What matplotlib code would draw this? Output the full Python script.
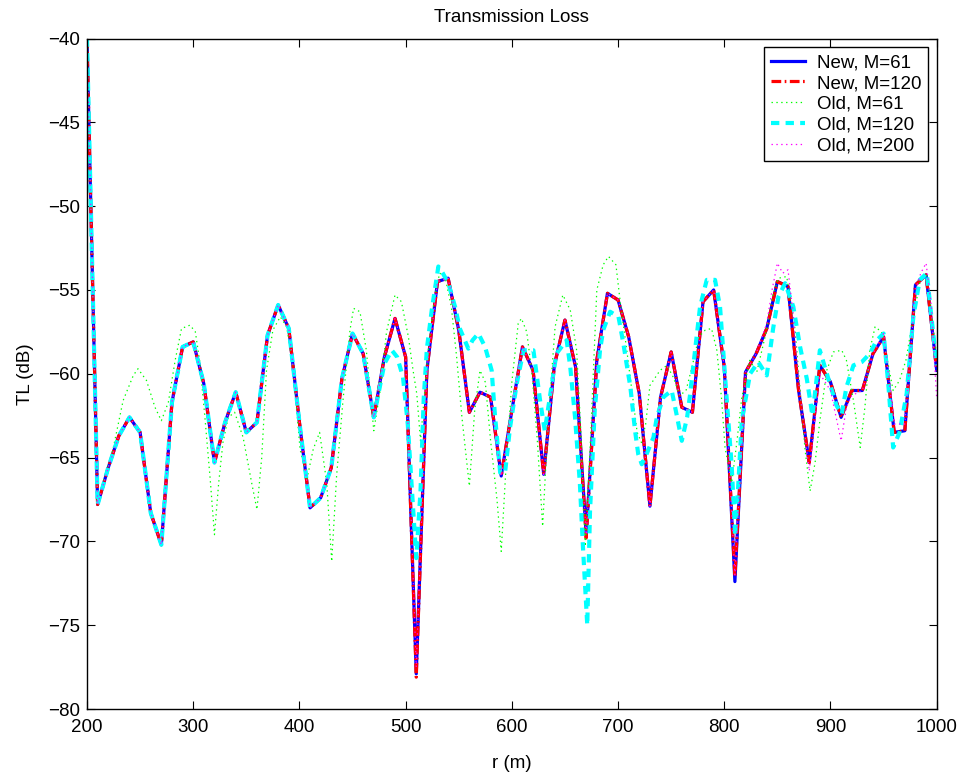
import matplotlib
matplotlib.use("Agg")
import matplotlib.pyplot as plt

plt.rcParams['font.family'] = ['Liberation Sans', 'DejaVu Sans']
plt.rcParams['lines.scale_dashes'] = False

# ---- data ----
r_new = list(range(200, 1001, 10))
tl_new61 = [-40.0, -67.8, -65.6, -63.7, -62.6, -63.5, -68.3, -70.2, -61.7, -58.4,
            -58.1, -60.6, -65.3, -62.9, -61.1, -63.5, -62.9, -57.7, -55.9, -57.3,
            -62.9, -68.0, -67.4, -65.6, -60.3, -57.6, -58.8, -62.6, -59.0, -56.7,
            -59.0, -77.9, -59.8, -54.5, -54.3, -57.4, -62.3, -61.1, -61.4, -66.1,
            -62.2, -58.4, -59.8, -66.0, -59.5, -56.8, -59.6, -69.6, -59.2, -55.2,
            -55.6, -57.8, -61.2, -67.9, -61.4, -58.7, -62.0, -62.3, -55.7, -55.0,
            -59.6, -72.4, -59.9, -58.8, -57.3, -54.5, -54.8, -61.0, -65.3, -59.5,
            -60.5, -62.6, -61.0, -61.0, -58.8, -57.8, -63.5, -63.4, -54.7, -54.1,
            -59.8]
tl_new120 = [-40.0, -67.8, -65.6, -63.7, -62.6, -63.5, -68.3, -70.2, -61.7, -58.4,
             -58.1, -60.6, -65.3, -62.9, -61.1, -63.5, -62.9, -57.7, -55.9, -57.3,
             -62.9, -68.0, -67.4, -65.6, -60.3, -57.6, -58.8, -62.6, -59.0, -56.7,
             -59.0, -78.1, -59.8, -54.5, -54.3, -57.4, -62.3, -61.1, -61.4, -66.1,
             -62.2, -58.4, -59.8, -66.0, -59.5, -56.8, -59.6, -69.8, -59.2, -55.2,
             -55.6, -57.8, -61.2, -67.9, -61.4, -58.7, -62.0, -62.3, -55.7, -55.0,
             -59.6, -72.1, -59.9, -58.8, -57.3, -54.5, -54.8, -61.0, -65.3, -59.5,
             -60.5, -62.6, -61.0, -61.0, -58.8, -57.8, -63.5, -63.4, -54.7, -54.1,
             -59.8]

r_old61 = [200, 210, 215, 224.5, 234, 243.6, 248, 256, 264, 270, 276.6, 283, 289, 297,
           302, 306, 311, 316, 320, 324, 328, 333, 339, 347, 355, 360, 364.5, 369,
           375, 382, 388, 394, 400.6, 407, 413, 419, 425.7, 430.4, 435, 441, 447.6,
           451, 457, 463, 470, 476, 482, 490, 496, 502.6, 507, 510.5, 514, 521,
           527, 532, 537, 543, 548, 553, 560, 565, 570, 575, 580, 586, 590, 595,
           600, 606, 609, 614, 619, 624, 629, 634, 640.7, 648, 655, 661, 665, 669,
           674, 680, 686, 691, 698, 702, 708, 713, 718, 722, 726, 730, 739.5, 746,
           752, 758, 764, 770, 776, 782, 788, 793, 797.6, 800.7, 807, 812, 816.5,
           824, 830.6, 838.4, 845, 851, 858.8, 866.7, 871.4, 876, 880.8, 885.5,
           890, 896.5, 902.7, 910.6, 915, 921.6, 928, 932.4, 937, 942, 948, 953,
           959, 965, 971, 978, 984, 990.7, 997, 1000]
tl_old61 = [-40.0, -67.8, -66.5, -64.5, -61.6, -60.1, -59.7, -60.4, -62.0, -62.8, -61.7,
            -59.2, -57.3, -57.1, -57.5, -59.2, -62.6, -66.3, -69.6, -66.5, -64.1, -62.6,
            -62.3, -63.8, -66.5, -68.1, -65.0, -59.8, -57.4, -56.6, -57.2, -59.6, -64.5,
            -66.3, -64.5, -63.5, -66.5, -71.2, -66.1, -61.6, -57.4, -56.1, -56.3, -58.6,
            -63.4, -61.0, -57.5, -55.3, -55.7, -57.8, -59.8, -61.2, -64.0, -58.8, -55.5,
            -54.0, -54.2, -56.0, -59.0, -62.6, -66.7, -62.2, -59.8, -60.5, -64.0, -67.5,
            -70.6, -65.0, -60.5, -57.0, -56.7, -57.5, -60.0, -64.0, -69.1, -63.0, -57.2,
            -55.3, -56.2, -58.6, -63.5, -70.3, -64.0, -55.0, -53.5, -53.0, -53.5, -55.7,
            -58.5, -61.0, -63.5, -64.1, -63.0, -60.7, -59.8, -59.5, -60.2, -61.3, -61.0,
            -59.5, -57.8, -57.4, -57.3, -58.6, -61.6, -64.4, -66.5, -64.0, -61.4, -59.2,
            -59.9, -57.8, -55.5, -54.3, -54.2, -57.4, -61.0, -64.5, -67.0, -65.3, -62.8,
            -59.8, -58.7, -58.6, -59.2, -61.6, -64.4, -62.0, -58.6, -57.2, -57.5, -59.0,
            -61.0, -60.4, -59.2, -56.6, -54.6, -54.0, -57.4, -59.0]

r_old120 = [200, 210, 220, 230, 240, 250, 260, 270, 280, 290, 300, 310, 320, 330, 340,
            350, 360, 370, 380, 390, 400, 410, 420, 430, 440, 450, 460, 470, 480, 487,
            492, 497.5, 502, 506, 510, 514, 517, 520, 524.6, 530.8, 535, 540.2, 546.5,
            551, 559, 563, 568.5, 574.8, 581, 584, 589, 593.6, 598.3, 604.6, 611,
            620.3, 626.6, 631, 636, 642, 651.6, 655, 659.5, 664, 667, 671, 673.6, 678,
            683, 686, 692.5, 700.4, 705, 708, 711.6, 716, 719, 722.3, 725.5, 733.3,
            736.5, 742.6, 750.5, 755, 760, 765, 767.7, 772.5, 777.2, 783.5, 791.3, 796,
            802.4, 807, 810.2, 813.3, 816.5, 824.3, 832, 840, 846, 851, 857.3, 865,
            871.4, 877.7, 883, 890, 898, 905.7, 910.6, 915, 921.6, 929.5, 937, 943.6,
            950, 954.4, 959, 965, 971.7, 978, 984, 990.7, 995, 1000]
tl_old120 = [-40.0, -67.8, -65.6, -63.7, -62.6, -63.5, -68.3, -70.2, -61.7, -58.4, -58.1,
             -60.6, -65.3, -62.9, -61.1, -63.5, -62.9, -57.7, -55.9, -57.3, -62.9, -68.0,
             -67.4, -65.6, -60.3, -57.6, -58.8, -62.6, -59.4, -58.6, -59.0, -60.2, -63.0,
             -67.0, -71.0, -67.0, -61.5, -58.5, -56.2, -53.6, -54.0, -54.6, -56.0, -57.3,
             -58.5, -58.0, -57.6, -58.4, -59.8, -62.4, -65.9, -65.9, -63.2, -60.6, -58.6,
             -58.6, -61.6, -63.4, -61.3, -58.8, -58.0, -59.6, -62.6, -66.5, -70.4, -75.0,
             -68.2, -62.2, -58.6, -57.4, -56.3, -56.6, -58.2, -59.4, -60.8, -63.4, -64.8,
             -65.4, -65.0, -63.8, -62.6, -61.4, -61.0, -62.4, -64.0, -62.6, -61.3, -58.6,
             -56.0, -54.4, -54.4, -56.0, -61.6, -65.5, -69.7, -66.5, -62.8, -60.0, -59.3,
             -60.1, -57.3, -55.4, -54.6, -56.0, -58.4, -60.3, -62.5, -58.6, -60.3, -61.9,
             -62.4, -60.8, -59.5, -59.3, -58.8, -58.0, -57.6, -60.6, -64.4, -63.5, -61.2,
             -56.6, -54.4, -54.0, -56.6, -59.5]

r_old200 = [200, 210, 220, 230, 240, 250, 260, 270, 280, 290, 300, 310, 320, 330, 340,
            350, 360, 370, 380, 390, 400, 410, 420, 430, 440, 450, 460, 470, 480, 490,
            500, 510, 520, 530, 540, 550, 560, 570, 580, 590, 600, 610, 620, 630, 640,
            650, 660, 670, 680, 690, 700, 710, 720, 730, 740, 750, 760, 770, 780, 790,
            800, 810, 820, 830, 840, 845, 850, 855, 860, 865, 870, 880, 890, 900, 905,
            910, 915, 920, 930, 940, 950, 960, 970, 980, 985, 990, 995, 1000]
tl_old200 = [-40.0, -67.8, -65.6, -63.7, -62.6, -63.5, -68.3, -70.2, -61.7, -58.4, -58.1,
             -60.6, -65.3, -62.9, -61.1, -63.5, -62.9, -57.7, -55.9, -57.3, -62.9, -68.0,
             -67.4, -65.6, -60.3, -57.6, -58.8, -62.6, -59.0, -56.7, -59.0, -77.5, -59.8,
             -54.5, -54.3, -57.4, -62.3, -61.1, -61.4, -66.1, -62.2, -58.4, -59.8, -66.0,
             -59.5, -56.8, -59.6, -69.6, -59.2, -55.2, -55.6, -57.8, -61.2, -67.9, -61.4,
             -58.7, -62.0, -62.3, -55.7, -55.0, -59.6, -72.0, -59.9, -58.8, -57.0, -55.0,
             -53.4, -54.0, -53.8, -56.5, -60.5, -65.8, -60.0, -61.0, -62.5, -64.0, -62.0,
             -61.3, -61.0, -58.8, -57.6, -63.0, -63.0, -55.0, -54.0, -53.4, -56.0, -61.5]

labels = ["New, M=61", "New, M=120", "Old, M=61", "Old, M=120", "Old, M=200"]

# ---- figure ----
fig = plt.figure(figsize=(9.61, 7.76), dpi=100)
ax = fig.add_axes([87 / 961, 1 - 709 / 776, (936.7 - 87) / 961, (709 - 38.5) / 776])

ax.plot(r_new, tl_new61, color=(0, 0, 1), lw=2.3, label=labels[0])
ax.plot(r_new, tl_new120, color=(1, 0, 0), lw=2.3, dashes=(7, 2.5, 1.2, 2.5), label=labels[1])
ax.plot(r_old61, tl_old61, color=(0, 1, 0), lw=0.9, dashes=(1, 2.5), label=labels[2])
ax.plot(r_old120, tl_old120, color=(0, 1, 1), lw=3.0, dashes=(6, 4.5), label=labels[3])
ax.plot(r_old200, tl_old200, color=(1, 0, 1), lw=0.9, dashes=(1, 2.5), label=labels[4])

ax.set_xlim(200, 1000)
ax.set_ylim(-80, -40)
ax.set_xticks(range(200, 1001, 100))
ax.set_yticks(range(-80, -39, 5))
ax.tick_params(direction='in', length=5.5, width=0.8, top=True, right=True,
               labelsize=13.5)
ax.tick_params(axis='x', pad=7)
ax.tick_params(axis='y', pad=5)
for s in ax.spines.values():
    s.set_linewidth(1.0)

ax.set_title("Transmission Loss", fontsize=13.5, pad=12)
ax.set_xlabel("r (m)", fontsize=13.5, labelpad=14)
ax.set_ylabel("TL (dB)", fontsize=13.5, labelpad=10)

leg = ax.legend(loc='upper right', bbox_to_anchor=(0.9898, 0.9869), borderaxespad=0,
                fontsize=13.5, handlelength=1.8, handletextpad=0.65, labelspacing=0.2,
                borderpad=0.36, fancybox=False, framealpha=1, edgecolor='black')
leg.get_frame().set_linewidth(1.0)

fig.savefig("out.png", dpi=100)
